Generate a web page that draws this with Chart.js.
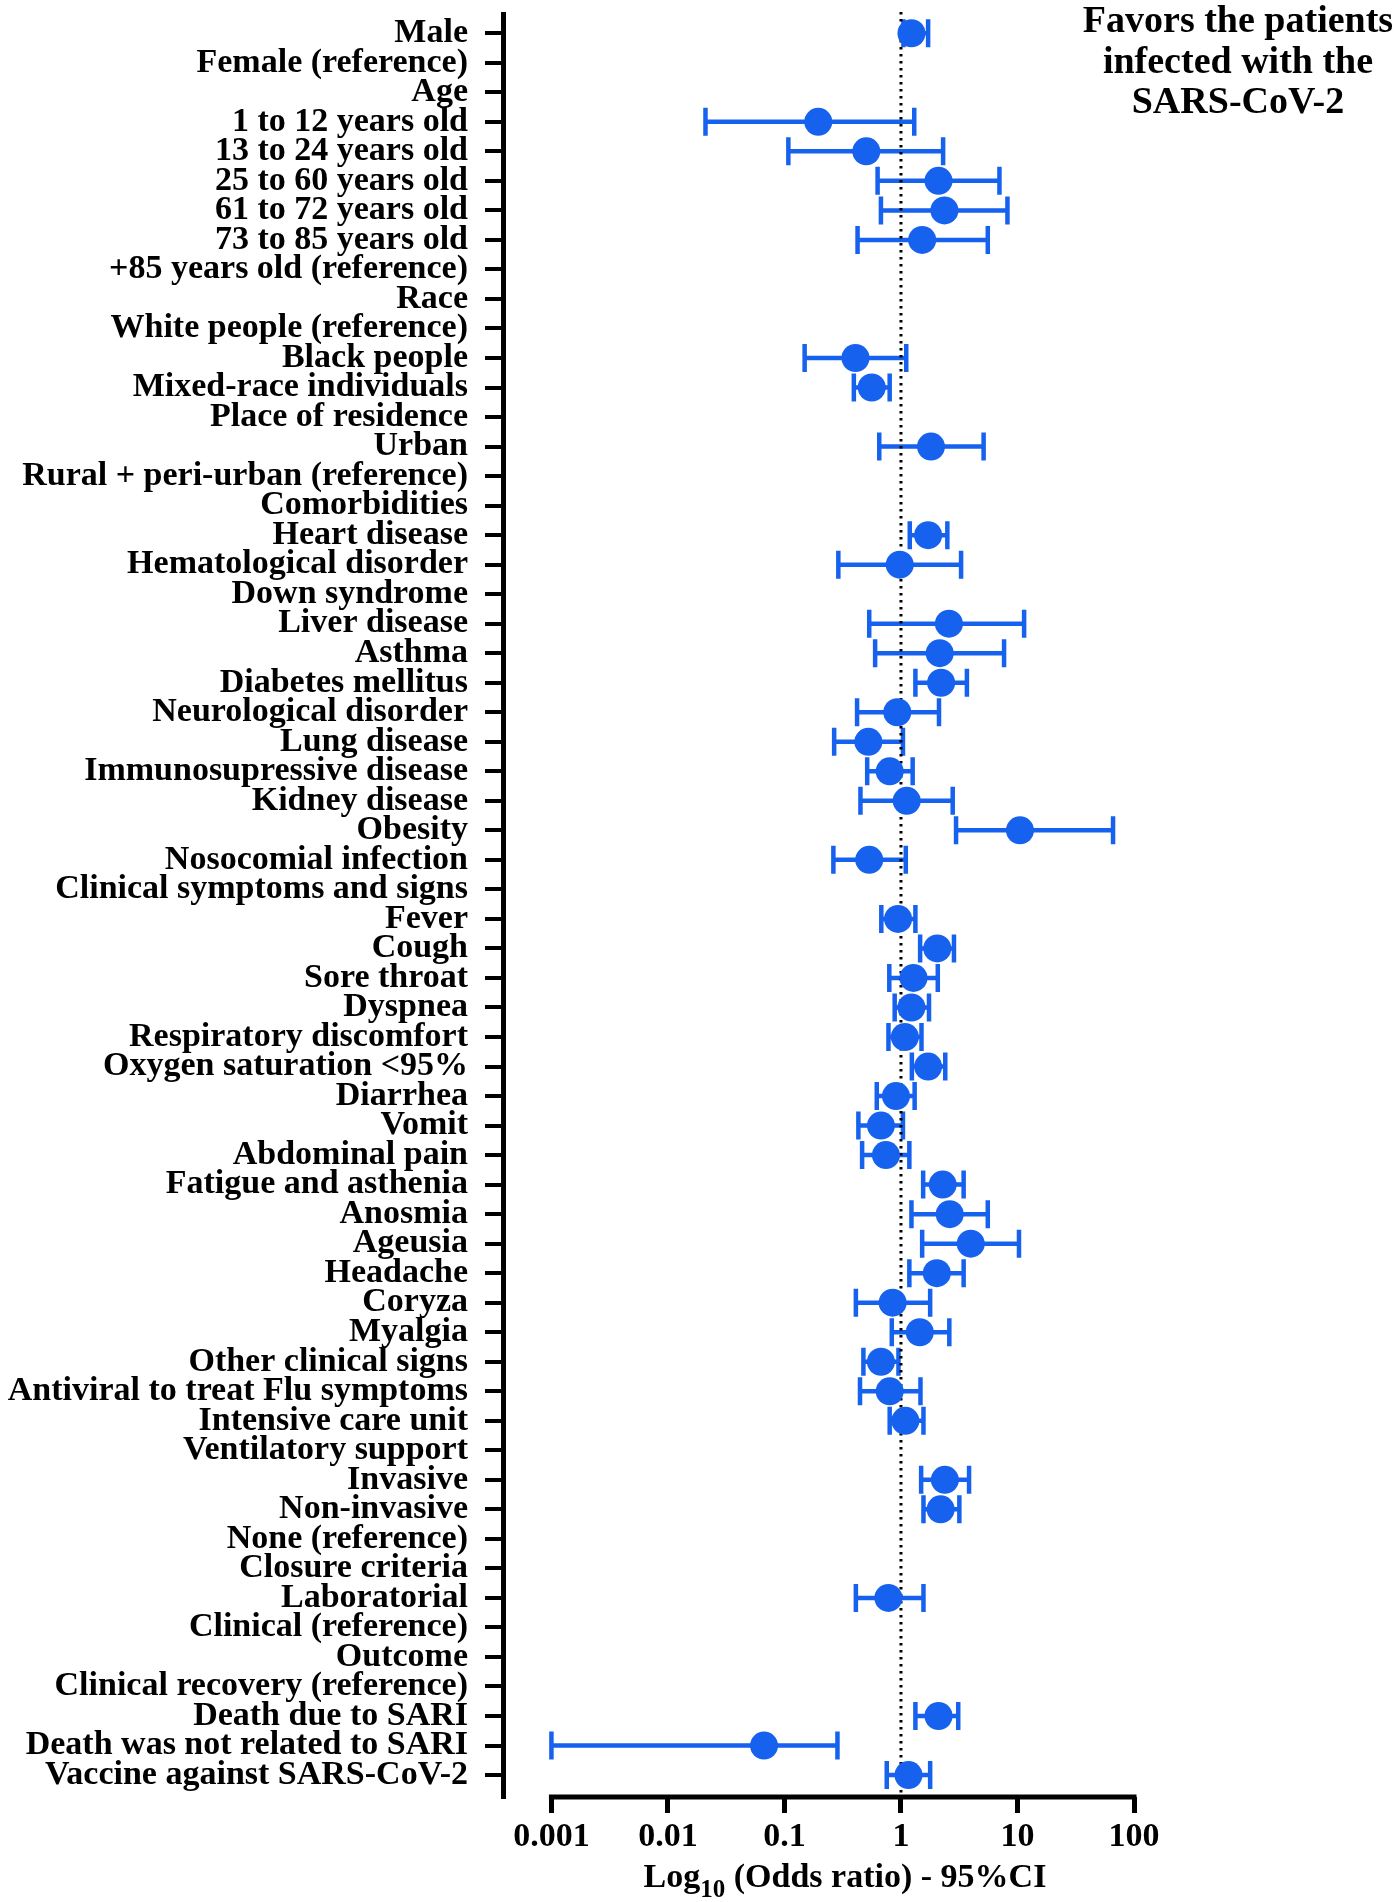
<!DOCTYPE html>
<html>
<head>
<meta charset="utf-8">
<script src="https://cdn.jsdelivr.net/npm/chart.js@4.4.1/dist/chart.umd.min.js"></script>
<style>
  html, body { margin: 0; padding: 0; background: #fff; }
  #wrap { width: 1398px; height: 1902px; }
</style>
</head>
<body>
<div id="wrap"><canvas id="forestPlot" width="1398" height="1902"></canvas></div>
<script>
// Rows top to bottom; null = heading / reference row (no estimate)
const rowLabels = [
  "Male", "Female (reference)", "Age", "1 to 12 years old", "13 to 24 years old",
  "25 to 60 years old", "61 to 72 years old", "73 to 85 years old", "+85 years old (reference)",
  "Race", "White people (reference)", "Black people", "Mixed-race individuals",
  "Place of residence", "Urban", "Rural + peri-urban (reference)", "Comorbidities",
  "Heart disease", "Hematological disorder", "Down syndrome", "Liver disease", "Asthma",
  "Diabetes mellitus", "Neurological disorder", "Lung disease", "Immunosupressive disease",
  "Kidney disease", "Obesity", "Nosocomial infection", "Clinical symptoms and signs",
  "Fever", "Cough", "Sore throat", "Dyspnea", "Respiratory discomfort",
  "Oxygen saturation <95%", "Diarrhea", "Vomit", "Abdominal pain", "Fatigue and asthenia",
  "Anosmia", "Ageusia", "Headache", "Coryza", "Myalgia", "Other clinical signs",
  "Antiviral to treat Flu symptoms", "Intensive care unit", "Ventilatory support",
  "Invasive", "Non-invasive", "None (reference)", "Closure criteria", "Laboratorial",
  "Clinical (reference)", "Outcome", "Clinical recovery (reference)", "Death due to SARI",
  "Death was not related to SARI", "Vaccine against SARS-CoV-2"
];

const oddsRatio = [
  1.23, null, null, 0.195, 0.504, 2.10, 2.36, 1.52, null,
  null, null, 0.407, 0.561,
  null, 1.81, null, null,
  1.71, 0.976, null, 2.58, 2.15,
  2.21, 0.93, 0.525, 0.80,
  1.12, 10.5, 0.534, null,
  0.944, 2.05, 1.28, 1.23, 1.08,
  1.71, 0.906, 0.673, 0.743, 2.28,
  2.62, 3.97, 2.03, 0.848, 1.45, 0.673,
  0.80, 1.09, null,
  2.38, 2.19, null, null, 0.78,
  null, null, null, 2.10,
  0.0668, 1.16
];

const ciLow = [
  1.05, null, null, 0.021, 0.108, 0.63, 0.673, 0.424, null,
  null, null, 0.149, 0.394,
  null, 0.651, null, null,
  1.19, 0.29, null, 0.534, 0.60,
  1.33, 0.42, 0.267, 0.513,
  0.449, 2.97, 0.263, null,
  0.678, 1.46, 0.794, 0.883, 0.781,
  1.24, 0.62, 0.431, 0.464, 1.55,
  1.23, 1.52, 1.18, 0.41, 0.834, 0.476,
  0.445, 0.80, null,
  1.49, 1.56, null, null, 0.41,
  null, null, null, 1.33,
  0.001, 0.755
];

const ciHigh = [
  1.71, null, null, 1.30, 2.30, 7.0, 8.2, 5.56, null,
  null, null, 1.11, 0.80,
  null, 5.12, null, null,
  2.50, 3.28, null, 11.4, 7.67,
  3.68, 2.12, 1.04, 1.26,
  2.78, 66.1, 1.10, null,
  1.33, 2.85, 2.07, 1.74, 1.50,
  2.40, 1.31, 1.04, 1.18, 3.45,
  5.56, 10.3, 3.45, 1.78, 2.60, 0.952,
  1.47, 1.56, null,
  3.84, 3.17, null, null, 1.56,
  null, null, null, 3.10,
  0.285, 1.78
];

const xTickValues = [0.001, 0.01, 0.1, 1, 10, 100];
const xTickLabels = ["0.001", "0.01", "0.1", "1", "10", "100"];
const titleLines = ["Favors the patients", "infected with the", "SARS-CoV-2"];

const BLUE = "#1662ee";
const SERIF = "'Liberation Serif', 'Times New Roman', serif";

const points = [];
rowLabels.forEach((label, i) => {
  if (oddsRatio[i] !== null) {
    points.push({ x: oddsRatio[i], y: i + 1, lo: ciLow[i], hi: ciHigh[i] });
  }
});

// error bars + dotted reference line, drawn under the points
const errorBars = {
  id: "errorBars",
  beforeDatasetsDraw(chart) {
    const { ctx, scales: { x, y }, chartArea } = chart;
    ctx.save();
    ctx.strokeStyle = BLUE;
    ctx.lineWidth = 4.5;
    ctx.lineCap = "butt";
    points.forEach((p) => {
      const yp = y.getPixelForValue(p.y);
      const x1 = x.getPixelForValue(p.lo);
      const x2 = x.getPixelForValue(p.hi);
      ctx.beginPath();
      ctx.moveTo(x1, yp);
      ctx.lineTo(x2, yp);
      ctx.moveTo(x1, yp - 14);
      ctx.lineTo(x1, yp + 14);
      ctx.moveTo(x2, yp - 14);
      ctx.lineTo(x2, yp + 14);
      ctx.stroke();
    });
    // no-effect line at OR = 1
    const x1 = x.getPixelForValue(1);
    ctx.strokeStyle = "#000";
    ctx.lineWidth = 3;
    ctx.setLineDash([2.5, 4.5]);
    ctx.beginPath();
    ctx.moveTo(x1, chartArea.top - 2);
    ctx.lineTo(x1, chartArea.bottom);
    ctx.stroke();
    ctx.restore();
  },
  afterDraw(chart) {
    const { ctx, scales: { x }, chartArea } = chart;
    ctx.save();
    // x axis line only spans 0.001..100
    ctx.strokeStyle = "#000";
    ctx.lineWidth = 5;
    ctx.beginPath();
    ctx.moveTo(x.getPixelForValue(xTickValues[0]) - 2.5, chartArea.bottom);
    ctx.lineTo(x.getPixelForValue(xTickValues[xTickValues.length - 1]) + 2.5, chartArea.bottom);
    ctx.stroke();

    // axis title with subscript
    ctx.fillStyle = "#000";
    ctx.textBaseline = "alphabetic";
    const big = "bold 34px " + SERIF;
    const small = "bold 25px " + SERIF;
    const partA = "Log";
    const partB = "10";
    const partC = " (Odds ratio) - 95%CI";
    ctx.font = big;
    const wA = ctx.measureText(partA).width;
    const wC = ctx.measureText(partC).width;
    ctx.font = small;
    const wB = ctx.measureText(partB).width;
    const total = wA + wB + wC;
    let tx = 845 - total / 2;
    const base = 1887;
    ctx.textAlign = "left";
    ctx.font = big;
    ctx.fillText(partA, tx, base);
    tx += wA;
    ctx.font = small;
    ctx.fillText(partB, tx, base + 10);
    tx += wB;
    ctx.font = big;
    ctx.fillText(partC, tx, base);

    // annotation top right
    ctx.font = "bold 38px " + SERIF;
    ctx.textAlign = "center";
    titleLines.forEach((line, i) => {
      ctx.fillText(line, 1238, 32 + i * 40.5);
    });
    ctx.restore();
  }
};

const ctx = document.getElementById("forestPlot").getContext("2d");
Chart.defaults.color = "#000";
Chart.defaults.font.family = SERIF;
Chart.defaults.font.weight = "bold";

const forestPlot = new Chart(ctx, {
  type: "scatter",
  data: {
    datasets: [
      {
        label: "Odds ratio",
        data: points,
        backgroundColor: BLUE,
        borderWidth: 0,
        pointRadius: 14,
        pointHoverRadius: 14,
      },
    ],
  },
  options: {
    responsive: false,
    devicePixelRatio: 1,
    animation: false,
    events: [],
    layout: {
      padding: { top: 10, right: 264, bottom: 0, left: 0 },
    },
    plugins: {
      legend: { display: false },
      tooltip: { enabled: false },
    },
    scales: {
      x: {
        type: "logarithmic",
        position: "bottom",
        min: 0.000384,
        max: 100,
        afterBuildTicks: (scale) => {
          scale.ticks = xTickValues.map((v) => ({ value: v }));
        },
        afterFit: (scale) => {
          scale.height = 105;
          scale.paddingLeft = 0;
          scale.paddingRight = 0;
        },
        border: { display: false },
        grid: {
          drawOnChartArea: false,
          drawTicks: true,
          tickLength: 16,
          lineWidth: 5,
          color: "#000",
        },
        ticks: {
          autoSkip: false,
          maxRotation: 0,
          padding: 4,
          font: { size: 34, weight: "bold" },
          callback: (value, index) => xTickLabels[index],
        },
      },
      y: {
        type: "linear",
        reverse: true,
        min: 0.348,
        max: 60.743,
        afterBuildTicks: (scale) => {
          scale.ticks = rowLabels.map((l, i) => ({ value: i + 1 }));
        },
        afterFit: (scale) => {
          scale.width = 503;
          scale.paddingTop = 0;
          scale.paddingBottom = 0;
        },
        border: { display: true, color: "#000", width: 5 },
        grid: {
          drawOnChartArea: false,
          drawTicks: true,
          tickLength: 18,
          lineWidth: 4,
          color: "#000",
        },
        ticks: {
          autoSkip: false,
          padding: 17,
          font: { size: 34, weight: "bold" },
          callback: (value) => rowLabels[value - 1],
        },
      },
    },
  },
  plugins: [errorBars],
});
</script>
</body>
</html>
